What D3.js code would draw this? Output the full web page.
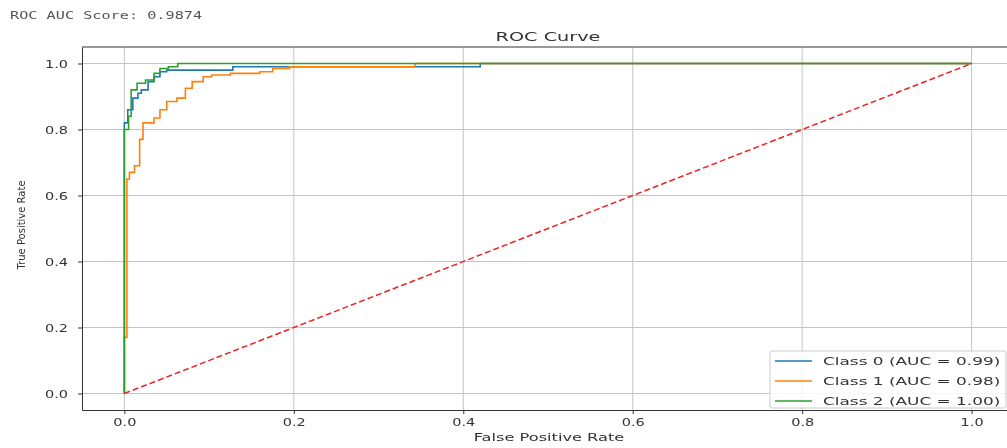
<!DOCTYPE html>
<html>
<head>
<meta charset="utf-8">
<script src="https://cdn.jsdelivr.net/npm/d3@7"></script>
<style>
body { margin: 0; background: #fff; }
svg { display: block; filter: blur(0.35px); }
</style>
</head>
<body>
<script>
//data
var aucScore = 'ROC AUC Score: 0.9874';
var classNames = ['Class 0 (AUC = 0.99)', 'Class 1 (AUC = 0.98)', 'Class 2 (AUC = 1.00)'];
var classColors = ['#1f77b4', '#ff7f0e', '#2ca02c'];
var xTicks = [0, 0.2, 0.4, 0.6, 0.8, 1.0];
var yTicks = [0, 0.2, 0.4, 0.6, 0.8, 1.0];
var fpr0 = [0, 0, 0.004, 0.004, 0.01, 0.01, 0.016, 0.016, 0.02, 0.02, 0.028, 0.028, 0.035, 0.035, 0.042, 0.042, 0.05, 0.05, 0.128, 0.128, 0.42, 0.42, 1];
var tpr0 = [0, 0.82, 0.82, 0.86, 0.86, 0.895, 0.895, 0.91, 0.91, 0.92, 0.92, 0.945, 0.945, 0.96, 0.96, 0.975, 0.975, 0.98, 0.98, 0.99, 0.99, 1, 1];
var fpr1 = [0, 0, 0.003, 0.003, 0.006, 0.006, 0.012, 0.012, 0.018, 0.018, 0.022, 0.022, 0.035, 0.035, 0.042, 0.042, 0.05, 0.05, 0.062, 0.062, 0.072, 0.072, 0.08, 0.08, 0.093, 0.093, 0.103, 0.103, 0.125, 0.125, 0.16, 0.16, 0.175, 0.175, 0.195, 0.195, 0.343, 0.343, 1];
var tpr1 = [0, 0.17, 0.17, 0.65, 0.65, 0.67, 0.67, 0.69, 0.69, 0.77, 0.77, 0.82, 0.82, 0.835, 0.835, 0.86, 0.86, 0.885, 0.885, 0.895, 0.895, 0.925, 0.925, 0.945, 0.945, 0.96, 0.96, 0.965, 0.965, 0.97, 0.97, 0.975, 0.975, 0.985, 0.985, 0.99, 0.99, 1, 1];
var fpr2 = [0, 0, 0.005, 0.005, 0.008, 0.008, 0.015, 0.015, 0.025, 0.025, 0.035, 0.035, 0.042, 0.042, 0.052, 0.052, 0.063, 0.063, 1];
var tpr2 = [0, 0.8, 0.8, 0.84, 0.84, 0.92, 0.92, 0.94, 0.94, 0.95, 0.95, 0.97, 0.97, 0.985, 0.985, 0.99, 0.99, 1, 1];
var diagonal = [0, 1];
//end data

var width = 1007, height = 448;
var svg = d3.select('body').append('svg')
    .attr('width', width)
    .attr('height', height);

var x = d3.scaleLinear().domain([-0.05, 1.05]).range([82, 1014]);
var y = d3.scaleLinear().domain([-0.05, 1.05]).range([410, 47]);

// stretched text helper (picture is wider than tall)
function label(g, txt, tx, ty, size, sx, anchor, family) {
    return g.append('text')
        .attr('transform', 'translate(' + tx + ',' + ty + ') scale(' + sx + ',1)')
        .attr('text-anchor', anchor || 'start')
        .style('font-family', family || 'DejaVu Sans, sans-serif')
        .style('font-size', size + 'px')
        .style('fill', '#333')
        .text(txt);
}

label(svg, aucScore, 10, 18.5, 10, 1.52, 'start', 'DejaVu Sans Mono, monospace').style('fill', '#555');
label(svg, 'ROC Curve', 548, 41, 12.5, 1.54, 'middle');

// grid
var grid = svg.append('g').attr('class', 'grid');
grid.selectAll('line.gx').data(xTicks).enter().append('line')
    .attr('x1', function (d) { return x(d); }).attr('x2', function (d) { return x(d); })
    .attr('y1', 47).attr('y2', 410)
    .attr('stroke', '#c4c4c4').attr('stroke-width', 1);
grid.selectAll('line.gy').data(yTicks).enter().append('line')
    .attr('y1', function (d) { return y(d); }).attr('y2', function (d) { return y(d); })
    .attr('x1', 82).attr('x2', 1014)
    .attr('stroke', '#c4c4c4').attr('stroke-width', 1);

// curves
var line = d3.line()
    .x(function (d) { return x(d[0]); })
    .y(function (d) { return y(d[1]); });
var series = [d3.zip(fpr0, tpr0), d3.zip(fpr1, tpr1), d3.zip(fpr2, tpr2)];
svg.append('g').selectAll('path')
    .data(series)
    .enter().append('path')
    .attr('d', line)
    .attr('fill', 'none')
    .attr('stroke', function (d, i) { return classColors[i]; })
    .attr('stroke-width', 1.6);

svg.append('path')
    .datum(d3.zip(diagonal, diagonal))
    .attr('d', line)
    .attr('fill', 'none')
    .attr('stroke', '#ee2222')
    .attr('stroke-width', 1.5)
    .attr('stroke-dasharray', '6,3');

// axes
var xAxis = svg.append('g')
    .attr('transform', 'translate(0,410)')
    .call(d3.axisBottom(x).tickValues(xTicks).tickSize(4).tickSizeOuter(0).tickFormat(d3.format('.1f')));
var yAxis = svg.append('g')
    .attr('transform', 'translate(82,0)')
    .call(d3.axisLeft(y).tickValues(yTicks).tickSize(4).tickSizeOuter(0).tickFormat(d3.format('.1f')));
[xAxis, yAxis].forEach(function (a) {
    a.select('.domain').attr('stroke', '#333').attr('stroke-width', 1);
    a.selectAll('.tick line').attr('stroke', '#333');
    a.selectAll('.tick text')
        .style('font-family', 'DejaVu Sans, sans-serif')
        .style('font-size', '10px')
        .attr('fill', '#333');
});
xAxis.selectAll('.tick text').attr('y', 0).attr('dy', 0)
    .attr('transform', 'translate(0,16) scale(1.45,1)');
yAxis.selectAll('.tick text').attr('x', 0).attr('dy', '0.35em')
    .attr('transform', 'translate(-14,0) scale(1.45,1)');
// top spine
svg.append('line').attr('x1', 82).attr('x2', 1014).attr('y1', 47).attr('y2', 47)
    .attr('stroke', '#333').attr('stroke-width', 1);

label(svg, 'False Positive Rate', 549, 441, 10, 1.62, 'middle');
svg.append('text')
    .attr('transform', 'translate(25,225) rotate(-90)')
    .attr('text-anchor', 'middle')
    .style('font-family', 'DejaVu Sans, sans-serif')
    .style('font-size', '10px')
    .style('fill', '#333')
    .text('True Positive Rate');

// legend
var gLegend = svg.append('g').attr('class', 'legend');
gLegend.append('rect')
    .attr('x', 770).attr('y', 351).attr('width', 236).attr('height', 57)
    .attr('rx', 2)
    .attr('fill', '#fff').attr('fill-opacity', 0.85)
    .attr('stroke', '#cccccc');
classNames.forEach(function (name, i) {
    var cy = 361 + i * 20;
    gLegend.append('line')
        .attr('x1', 775).attr('x2', 812).attr('y1', cy).attr('y2', cy)
        .attr('stroke', classColors[i]).attr('stroke-width', 1.6);
    label(gLegend, name, 823, cy + 3.6, 10, 1.69, 'start');
});
</script>
</body>
</html>
